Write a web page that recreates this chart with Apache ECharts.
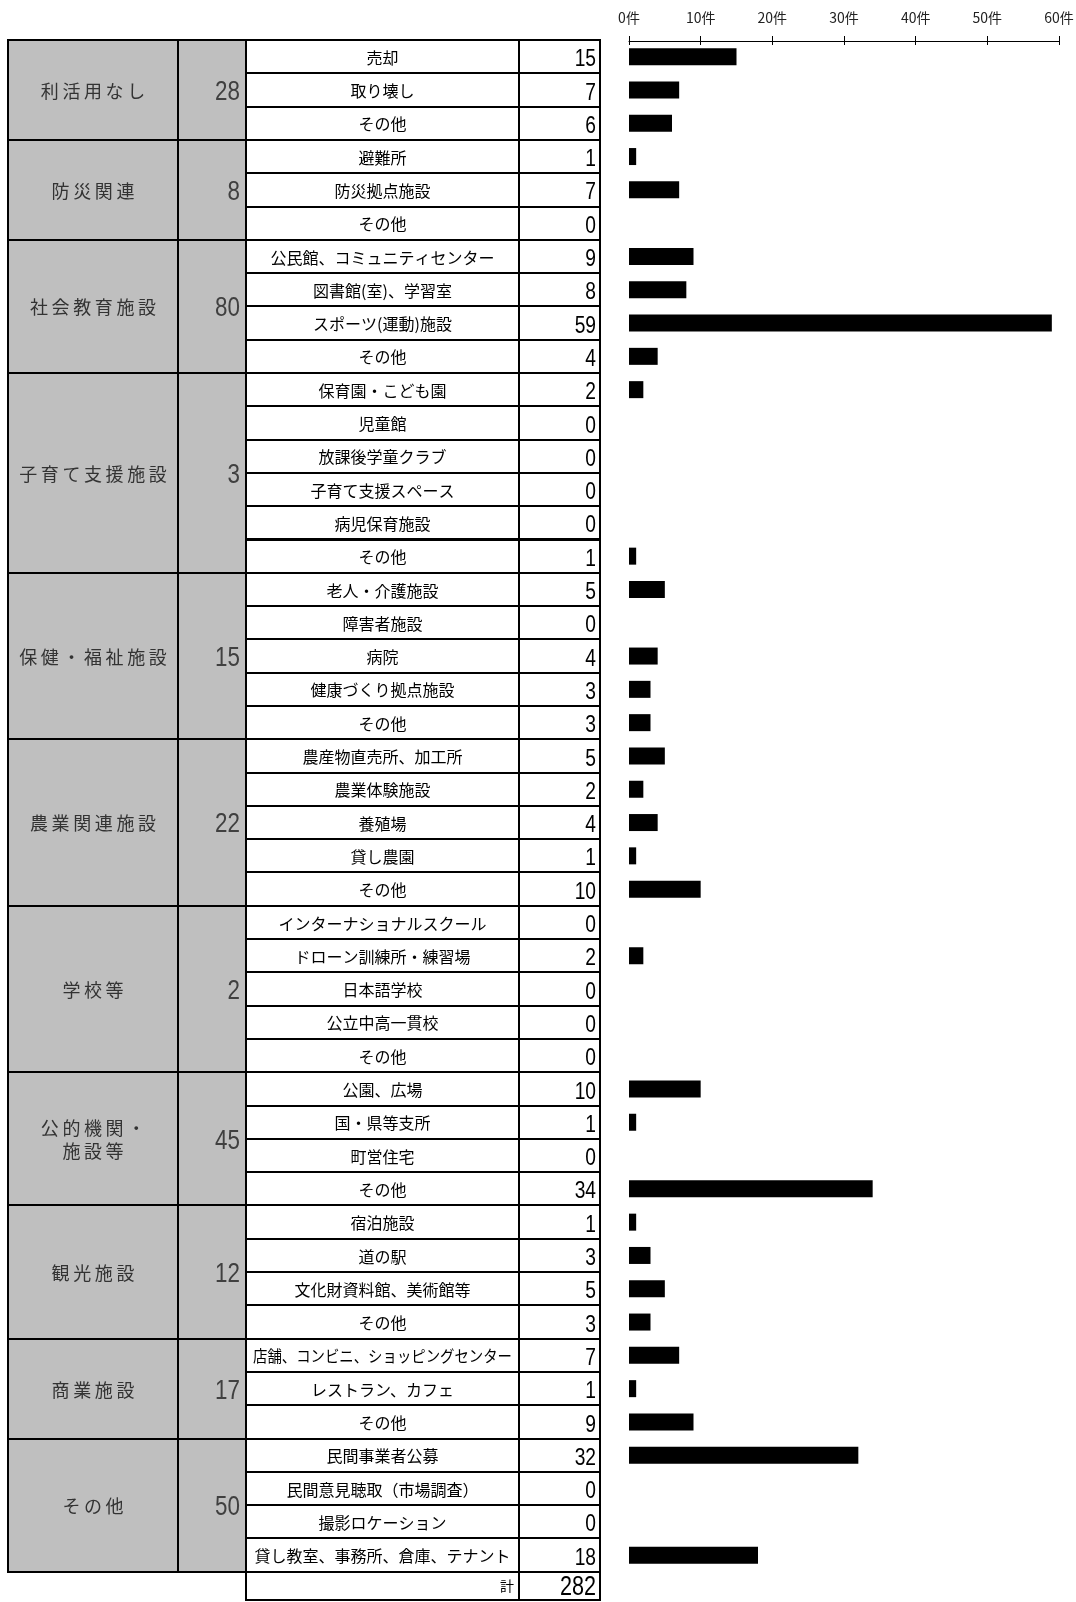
<!DOCTYPE html>
<html>
<head>
<meta charset="utf-8">
<script src="https://cdn.jsdelivr.net/npm/echarts@6/dist/echarts.min.js"></script>
<style>
html, body { margin: 0; padding: 0; background: #fff; }
#chart { width: 1076px; height: 1602px; }
</style>
</head>
<body>
<div id="chart"></div>
<script>
// groups (left grey blocks)
const groupNames = ['利活用なし', '防災関連', '社会教育施設', '子育て支援施設', '保健・福祉施設', '農業関連施設', '学校等', '公的機関・\n施設等', '観光施設', '商業施設', 'その他'];
const groupSizes = [3, 3, 4, 6, 5, 5, 5, 4, 4, 3, 4];
const groupTotals = [28, 8, 80, 3, 15, 22, 2, 45, 12, 17, 50];

// items (one row each)
const itemNames = [
  '売却', '取り壊し', 'その他',
  '避難所', '防災拠点施設', 'その他',
  '公民館、コミュニティセンター', '図書館(室)、学習室', 'スポーツ(運動)施設', 'その他',
  '保育園・こども園', '児童館', '放課後学童クラブ', '子育て支援スペース', '病児保育施設', 'その他',
  '老人・介護施設', '障害者施設', '病院', '健康づくり拠点施設', 'その他',
  '農産物直売所、加工所', '農業体験施設', '養殖場', '貸し農園', 'その他',
  'インターナショナルスクール', 'ドローン訓練所・練習場', '日本語学校', '公立中高一貫校', 'その他',
  '公園、広場', '国・県等支所', '町営住宅', 'その他',
  '宿泊施設', '道の駅', '文化財資料館、美術館等', 'その他',
  '店舗、コンビニ、ショッピングセンター', 'レストラン、カフェ', 'その他',
  '民間事業者公募', '民間意見聴取（市場調査）', '撮影ロケーション', '貸し教室、事務所、倉庫、テナント'
];
const itemValues = [
  15, 7, 6,
  1, 7, 0,
  9, 8, 59, 4,
  2, 0, 0, 0, 0, 1,
  5, 0, 4, 3, 3,
  5, 2, 4, 1, 10,
  0, 2, 0, 0, 0,
  10, 1, 0, 34,
  1, 3, 5, 3,
  7, 1, 9,
  32, 0, 0, 18
];
const totalLabel = '計';
const grandTotal = 282;

const axisMax = 60;
const axisStep = 10;
const axisUnit = '件';

// layout
const COLS = [8, 178, 246, 519, 600];
const TABLE_TOP = 40;
const ROW_H = 33.3;
const GREY = '#bfbfbf';
const cjk = '"Noto Sans CJK JP", sans-serif';
const num = '"Liberation Sans", Arial, sans-serif';
const NUM_SX = 0.8; // squeeze digits to look like a narrow face

const rowCats = itemNames.concat([totalLabel]);
const nRows = rowCats.length;

const groupStarts = [];
groupSizes.reduce((acc, n) => { groupStarts.push(acc); return acc + n; }, 0);

const measureCtx = document.createElement('canvas').getContext('2d');
function fitScale(text, font, maxW) {
  measureCtx.font = font;
  const w = measureCtx.measureText(text).width;
  return w > maxW ? maxW / w : 1;
}
function spaced(s) {
  return s.split('\n').map(l => Array.from(l).join('\u2009')).join('\n');
}

function rowBox(api, row) {
  const c = api.coord([0, row])[1];
  const band = api.size([0, 1])[1];
  return [Math.round(c - band / 2), Math.round(c + band / 2), c];
}
function colX(api, i) {
  return Math.round(api.coord([COLS[i], 0])[0]);
}
function numText(x, y, text, size, color) {
  return { type: 'text', x: x, y: y, scaleX: NUM_SX,
    style: { text: text, x: 0, y: 0, font: size + 'px ' + num, fill: color, align: 'right', verticalAlign: 'middle' } };
}

function renderItemRow(params, api) {
  const row = api.value(1);
  const [y0, y1, yc] = rowBox(api, row);
  const x2 = colX(api, 2), x3 = colX(api, 3), x4 = colX(api, 4);
  const name = itemNames[params.dataIndex];
  const nameFont = '16px ' + cjk;
  const sx = fitScale(name, nameFont, x3 - x2 - 14);
  const cx = (x2 + x3) / 2;
  return {
    type: 'group',
    children: [
      { type: 'rect', shape: { x: x2, y: y0, width: x3 - x2, height: y1 - y0 },
        style: { fill: '#fff', stroke: '#000', lineWidth: 2 } },
      { type: 'rect', shape: { x: x3, y: y0, width: x4 - x3, height: y1 - y0 },
        style: { fill: '#fff', stroke: '#000', lineWidth: 2 } },
      { type: 'text', x: cx, y: yc + 1, scaleX: sx,
        style: { text: name, x: 0, y: 0, font: nameFont, fill: '#000', align: 'center', verticalAlign: 'middle' } },
      numText(x4 - 4, yc + 3, String(api.value(2)), 24, '#000')
    ]
  };
}

function renderTotalRow(params, api) {
  const row = api.value(1);
  const [y0, y1] = rowBox(api, row);
  const yb = Math.min(y1, api.getHeight() - 2);
  const x2 = colX(api, 2), x3 = colX(api, 3), x4 = colX(api, 4);
  const ym = (y0 + yb) / 2;
  return {
    type: 'group',
    children: [
      { type: 'rect', shape: { x: x2, y: y0, width: x3 - x2, height: yb - y0 },
        style: { fill: '#fff', stroke: '#000', lineWidth: 2 } },
      { type: 'rect', shape: { x: x3, y: y0, width: x4 - x3, height: yb - y0 },
        style: { fill: '#fff', stroke: '#000', lineWidth: 2 } },
      { type: 'text', x: x3 - 5, y: ym,
        style: { text: totalLabel, x: 0, y: 0, font: '14px ' + cjk, fill: '#000', align: 'right', verticalAlign: 'middle' } },
      numText(x4 - 4, ym + 2, String(api.value(2)), 27, '#000')
    ]
  };
}

function renderGroup(params, api) {
  const r0 = api.value(1), r1 = api.value(2);
  const y0 = rowBox(api, r0)[0];
  const y1 = rowBox(api, r1)[1];
  const x0 = colX(api, 0), x1 = colX(api, 1), x2 = colX(api, 2);
  const yc = (y0 + y1) / 2;
  return {
    type: 'group',
    children: [
      { type: 'rect', shape: { x: x0, y: y0, width: x1 - x0, height: y1 - y0 },
        style: { fill: GREY, stroke: '#000', lineWidth: 2 } },
      { type: 'rect', shape: { x: x1, y: y0, width: x2 - x1, height: y1 - y0 },
        style: { fill: GREY, stroke: '#000', lineWidth: 2 } },
      { type: 'text', x: (x0 + x1) / 2, y: yc + 1,
        style: { text: spaced(groupNames[params.dataIndex]), x: 0, y: 0, font: '18px ' + cjk, lineHeight: 23,
          fill: '#333', align: 'center', verticalAlign: 'middle' } },
      numText(x2 - 6, yc + 2, String(api.value(3)), 28, '#404040')
    ]
  };
}

const chart = echarts.init(document.getElementById('chart'));

const catAxisBase = {
  type: 'category',
  data: rowCats,
  inverse: true,
  show: false
};

chart.setOption({
  animation: false,
  grid: [
    { left: 629, width: 1059 - 629, top: TABLE_TOP, height: ROW_H * nRows, outerBoundsMode: 'none' },
    { left: 0, width: 628, top: TABLE_TOP, height: ROW_H * nRows, outerBoundsMode: 'none' }
  ],
  xAxis: [
    {
      type: 'value', gridIndex: 0, position: 'top', min: 0, max: axisMax, interval: axisStep, offset: -1,
      axisLine: { show: true, lineStyle: { color: '#000', width: 1 } },
      axisTick: { show: true, length: 5, lineStyle: { color: '#000', width: 1 } },
      axisLabel: { formatter: '{value}' + axisUnit, margin: 16, fontSize: 14, color: '#222', fontFamily: cjk },
      splitLine: { show: false }
    },
    {
      type: 'value', gridIndex: 0, position: 'top', min: 0, max: axisMax, interval: axisStep, offset: -1,
      axisLine: { show: false },
      axisTick: { show: true, inside: true, length: 4, lineStyle: { color: '#000', width: 1 } },
      axisLabel: { show: false },
      splitLine: { show: false }
    },
    { type: 'value', gridIndex: 1, min: 0, max: 628, show: false, splitLine: { show: false } }
  ],
  yAxis: [
    Object.assign({ gridIndex: 0 }, catAxisBase),
    Object.assign({ gridIndex: 1 }, catAxisBase)
  ],
  series: [
    {
      type: 'bar', xAxisIndex: 0, yAxisIndex: 0,
      data: itemValues.concat(['-']),
      barWidth: 17,
      itemStyle: { color: '#000' },
      silent: true
    },
    {
      type: 'custom', xAxisIndex: 2, yAxisIndex: 1,
      renderItem: renderGroup,
      encode: { x: 0, y: 1 },
      data: groupNames.map((g, i) => [0, groupStarts[i], groupStarts[i] + groupSizes[i] - 1, groupTotals[i]]),
      silent: true
    },
    {
      type: 'custom', xAxisIndex: 2, yAxisIndex: 1,
      renderItem: renderItemRow,
      encode: { x: 0, y: 1 },
      data: itemValues.map((v, i) => [0, i, v]),
      silent: true
    },
    {
      type: 'custom', xAxisIndex: 2, yAxisIndex: 1,
      renderItem: renderTotalRow,
      encode: { x: 0, y: 1 },
      data: [[0, itemNames.length, grandTotal]],
      silent: true
    }
  ]
});
</script>
</body>
</html>
